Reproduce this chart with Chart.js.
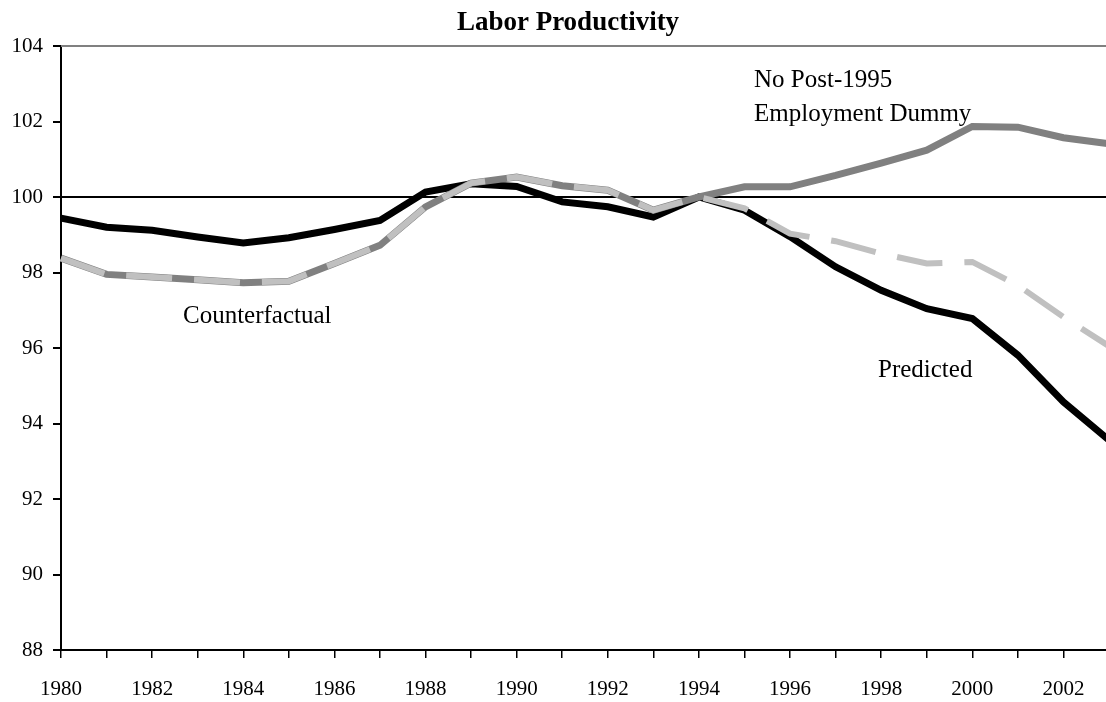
<!DOCTYPE html>
<html lang="en">
<head>
  <meta charset="UTF-8" />
  <title>Labor Productivity</title>
  <script src="https://cdn.jsdelivr.net/npm/chart.js"></script>
  <style>
    html, body {
      margin: 0;
      padding: 0;
      background: #fff;
      overflow: hidden;
    }
    #wrap {
      width: 1106px;
      height: 702px;
      overflow: hidden;
    }
  </style>
</head>
<body>
  <div id="wrap">
    <canvas id="chart" width="1128" height="702"></canvas>
  </div>

  <script>
    // data
    const years = [
      "1980", "1981", "1982", "1983", "1984", "1985", "1986", "1987",
      "1988", "1989", "1990", "1991", "1992", "1993", "1994", "1995",
      "1996", "1997", "1998", "1999", "2000", "2001", "2002", "2003"
    ];

    const predicted = [
      99.44, 99.2, 99.12, 98.94, 98.78, 98.92, 99.14, 99.38,
      100.13, 100.35, 100.28, 99.87, 99.74, 99.47, 100.0, 99.65,
      98.95, 98.15, 97.53, 97.04, 96.78, 95.81, 94.57, 93.56
    ];

    const noDummy = [
      98.38, 97.95, 97.88, 97.81, 97.73, 97.77, 98.24, 98.72,
      99.74, 100.37, 100.53, 100.3, 100.18, 99.65, 100.0, 100.27,
      100.27, 100.57, 100.9, 101.24, 101.87, 101.85, 101.57, 101.41
    ];

    const counterfactual = [
      98.38, 97.95, 97.88, 97.81, 97.73, 97.77, 98.24, 98.72,
      99.74, 100.37, 100.53, 100.3, 100.18, 99.65, 100.0, 99.7,
      99.03, 98.83, 98.5, 98.24, 98.28, 97.66, 96.82, 96.05
    ];

    const yTicks = { min: 88, max: 104, step: 2 };

    const serif = "'Liberation Serif', 'DejaVu Serif', serif";

    // title, frame top and the free text labels
    const decorations = {
      id: "decorations",
      beforeDatasetsDraw(chart) {
        const { ctx, chartArea } = chart;
        ctx.save();
        ctx.strokeStyle = "#808080";
        ctx.lineWidth = 2;
        ctx.beginPath();
        ctx.moveTo(chartArea.left, chartArea.top);
        ctx.lineTo(chartArea.right, chartArea.top);
        ctx.stroke();
        ctx.restore();
      },
      afterDraw(chart) {
        const { ctx } = chart;
        ctx.save();
        ctx.fillStyle = "#000";
        ctx.textBaseline = "alphabetic";

        ctx.font = "bold 27px " + serif;
        ctx.textAlign = "center";
        ctx.fillText("Labor Productivity", 568, 30);

        ctx.font = "25px " + serif;
        ctx.textAlign = "left";
        ctx.fillText("No Post-1995", 754, 87);
        ctx.fillText("Employment Dummy", 754, 121);
        ctx.fillText("Counterfactual", 183, 323);
        ctx.fillText("Predicted", 878, 377);
        ctx.restore();
      }
    };

    const ctx = document.getElementById("chart").getContext("2d");
    const chart = new Chart(ctx, {
      type: "line",
      data: {
        labels: years,
        datasets: [
          {
            label: "Counterfactual",
            data: counterfactual,
            borderColor: "#c0c0c0",
            borderWidth: 6,
            borderDash: [46, 22],
            borderCapStyle: "butt",
            pointRadius: 0,
            tension: 0
          },
          {
            label: "No Post-1995 Employment Dummy",
            data: noDummy,
            borderColor: "#808080",
            borderWidth: 7,
            pointRadius: 0,
            tension: 0
          },
          {
            label: "Predicted",
            data: predicted,
            borderColor: "#000000",
            borderWidth: 7,
            pointRadius: 0,
            tension: 0
          }
        ]
      },
      options: {
        responsive: false,
        animation: false,
        layout: { padding: { top: 46, right: 0, left: 0, bottom: 0 } },
        plugins: {
          legend: { display: false },
          tooltip: { enabled: false },
          title: { display: false }
        },
        scales: {
          x: {
            offset: false,
            afterFit(scale) { scale.height = 52; },
            border: { display: true, color: "#000", width: 2 },
            grid: { drawOnChartArea: false, drawTicks: true, tickLength: 8, color: "#000", lineWidth: 1.5 },
            ticks: {
              autoSkip: false,
              maxRotation: 0,
              padding: 19,
              color: "#000",
              font: { family: serif, size: 21 },
              callback(value, index) {
                return index % 2 === 0 ? years[index] : "";
              }
            }
          },
          y: {
            min: yTicks.min,
            max: yTicks.max,
            afterFit(scale) { scale.width = 61; },
            border: { display: true, color: "#000", width: 2 },
            grid: {
              drawOnChartArea: true,
              drawTicks: true,
              tickLength: 8,
              lineWidth: 2,
              tickColor: "#000",
              color: (c) => (c.tick && c.tick.value === 100 ? "#000" : "rgba(0,0,0,0)")
            },
            ticks: {
              stepSize: yTicks.step,
              padding: 10,
              color: "#000",
              font: { family: serif, size: 21 }
            }
          }
        }
      },
      plugins: [decorations]
    });
  </script>
</body>
</html>
